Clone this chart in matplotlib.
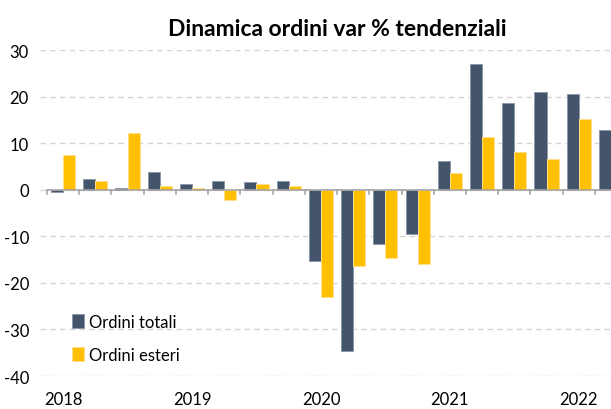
import numpy as np
import matplotlib
matplotlib.use("Agg")
import matplotlib.pyplot as plt
from matplotlib.transforms import blended_transform_factory

plt.rcParams['font.family'] = ['Lato', 'DejaVu Sans']
plt.rcParams['axes.unicode_minus'] = False

# quarterly data 2018Q1 .. 2022Q2
quarters = ['2018 Q1', '2018 Q2', '2018 Q3', '2018 Q4',
            '2019 Q1', '2019 Q2', '2019 Q3', '2019 Q4',
            '2020 Q1', '2020 Q2', '2020 Q3', '2020 Q4',
            '2021 Q1', '2021 Q2', '2021 Q3', '2021 Q4',
            '2022 Q1', '2022 Q2']
ordini_totali = [-0.4, 2.2, 0.4, 3.7, 1.3, 1.9, 1.6, 1.9,
                 -15.3, -34.6, -11.6, -9.5, 6.2, 27.1, 18.6, 21.0, 20.6, 12.8]
ordini_esteri = [7.4, 1.9, 12.2, 0.9, 0.4, -2.3, 1.3, 0.7,
                 -23.0, -16.3, -14.6, -16.0, 3.5, 11.3, 8.0, 6.5, 15.2, 12.2]
years = ['2018', '2019', '2020', '2021', '2022']

gray = '#44546A'
yellow = '#FFC000'

fig = plt.figure(figsize=(6.11, 4.10), dpi=100)
ax = fig.add_axes([40/611, 33/410, 571/611, 326/410])

x = np.arange(len(quarters))
w = 0.375
ax.bar(x - w/2, ordini_totali, w, color=gray, edgecolor='#8C99AA', linewidth=0.7,
       label='Ordini totali', zorder=3)
ax.bar(x + w/2, ordini_esteri, w, color=yellow, edgecolor='#FFE08A', linewidth=0.7,
       label='Ordini esteri', zorder=3)

ax.set_xlim(-0.717, 17.0)
ax.set_ylim(-40, 30)
ax.set_yticks(range(-40, 31, 10))
ax.yaxis.grid(True, color='#D4D4D4', linestyle=(0, (4, 3)), linewidth=1)
ax.set_axisbelow(True)
for s in ax.spines.values():
    s.set_visible(False)
ax.tick_params(axis='y', length=0, labelsize=12, pad=8)

# zero axis with category tick marks
ax.hlines(0, -0.5, 18, color='#A6A6A6', linewidth=1.2, zorder=4)
ax.set_xticks([])
for b in np.arange(-0.5, 18, 1):
    ax.plot([b, b], [0, -0.9], color='#A6A6A6', linewidth=1.2, zorder=4)

tr = blended_transform_factory(ax.transData, ax.transAxes)
for i, yr in enumerate(years):
    ax.text(4*i, -0.07, yr, transform=tr, ha='center', va='center', fontsize=12)

ax.legend(loc='lower left', bbox_to_anchor=(0.03, -0.005), frameon=False, fontsize=12,
          handlelength=0.7, handleheight=0.9, handletextpad=0.3, labelspacing=1.0)

fig.text(0.552, 0.928, 'Dinamica ordini var % tendenziali', ha='center', va='center',
         fontsize=16.5, fontweight='bold')

fig.savefig('out.png', dpi=100)
